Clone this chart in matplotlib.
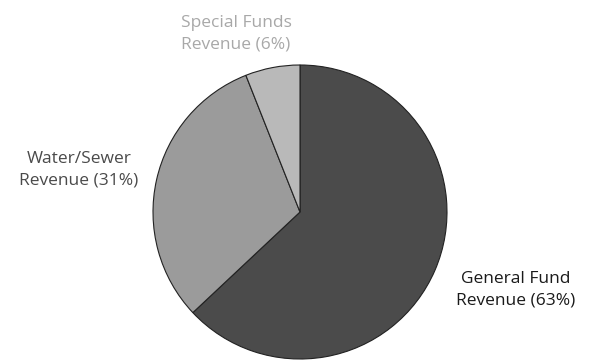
import matplotlib
matplotlib.use("Agg")
import matplotlib.pyplot as plt

categories = ["General Fund", "Water/Sewer", "Special Funds"]
shares = [63, 31, 6]
colors = ["#4b4b4b", "#9b9b9b", "#b9b9b9"]
label_colors = ["#1a1a1a", "#4a4a4a", "#a8a8a8"]
# label anchor positions in figure pixels (x, y from top)
label_pos = [(516, 290), (79, 170), (236, 34)]

W, H = 595, 360
fig = plt.figure(figsize=(W / 100, H / 100), dpi=100)
cx, cy, r = 300, 212, 147
ax = fig.add_axes([(cx - r) / W, (H - cy - r) / H, 2 * r / W, 2 * r / H])
ax.pie(shares, colors=colors, startangle=90, counterclock=False,
       wedgeprops=dict(edgecolor="#222222", linewidth=0.8))
ax.set_xlim(-1, 1)
ax.set_ylim(-1, 1)
ax.set_aspect("equal")
ax.axis("off")

for cat, s, c, (px, py) in zip(categories, shares, label_colors, label_pos):
    fig.text(px / W, 1 - py / H, f"{cat}\nRevenue ({s}%)", ha="center", va="center",
             color=c, fontsize=12.5, family="Open Sans", linespacing=1.42)

fig.savefig("out.png", dpi=100)
